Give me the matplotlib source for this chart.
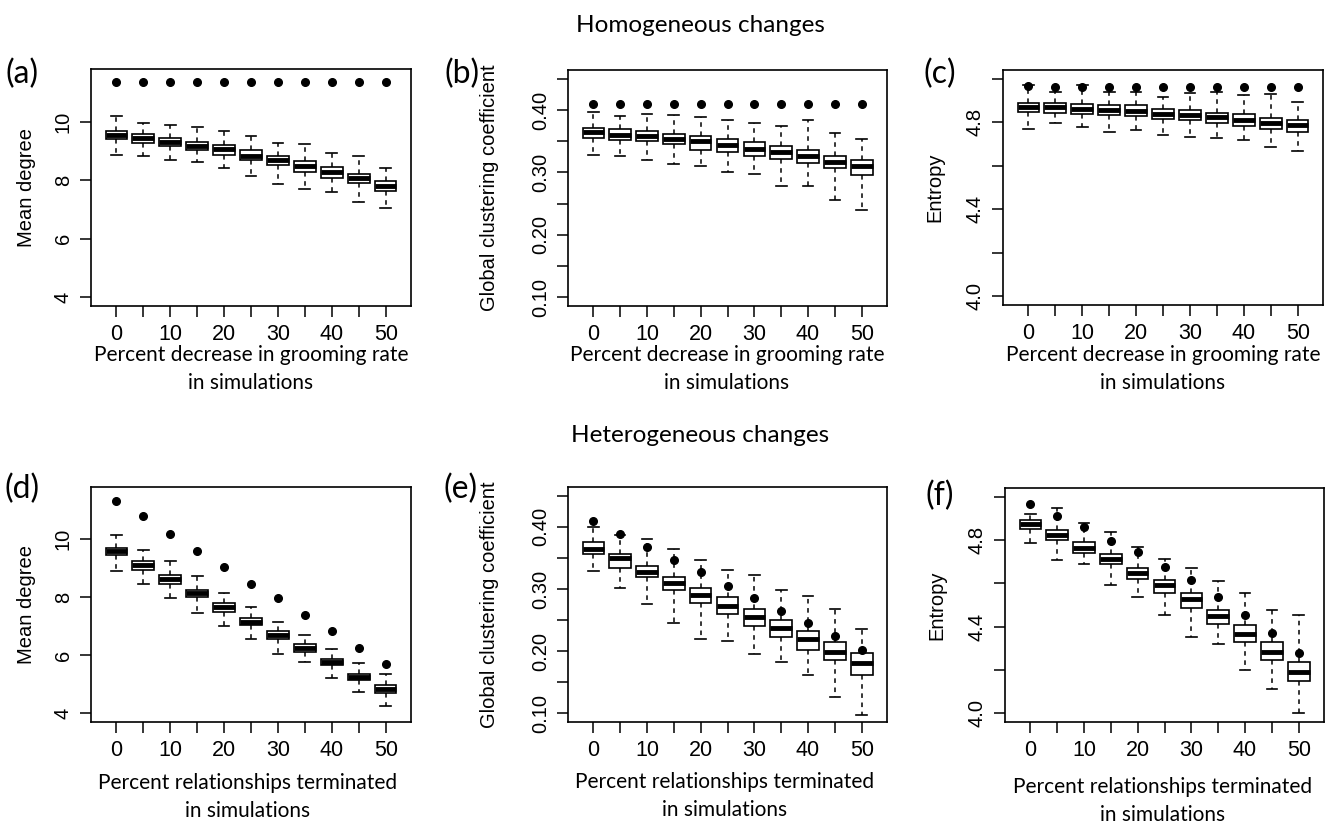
import matplotlib
matplotlib.use('Agg')
import matplotlib.pyplot as plt
import numpy as np

# x positions (percent) shared by all panels
pct = [0, 5, 10, 15, 20, 25, 30, 35, 40, 45, 50]

# (a) homogeneous, mean degree
a_lo  = [8.86, 8.81, 8.70, 8.62, 8.42, 8.16, 7.87, 7.71, 7.59, 7.26, 7.06]
a_q1  = [9.42, 9.27, 9.18, 9.03, 8.87, 8.69, 8.53, 8.29, 8.09, 7.89, 7.62]
a_med = [9.55, 9.43, 9.31, 9.18, 9.05, 8.83, 8.69, 8.50, 8.27, 8.07, 7.81]
a_q3  = [9.69, 9.57, 9.44, 9.31, 9.20, 9.03, 8.82, 8.66, 8.46, 8.21, 7.98]
a_hi  = [10.21, 9.97, 9.87, 9.83, 9.67, 9.50, 9.27, 9.22, 8.94, 8.81, 8.43]
a_obs = [11.34] * 11

# (b) homogeneous, global clustering coefficient
b_lo  = [0.3285, 0.326, 0.320, 0.3134, 0.3108, 0.301, 0.298, 0.2785, 0.2785, 0.256, 0.2403]
b_q1  = [0.355, 0.352, 0.350, 0.346, 0.3366, 0.332, 0.327, 0.3215, 0.315, 0.307, 0.296]
b_med = [0.3645, 0.360, 0.3586, 0.354, 0.3505, 0.3446, 0.3376, 0.333, 0.326, 0.317, 0.310]
b_q3  = [0.371, 0.369, 0.3656, 0.361, 0.359, 0.3538, 0.348, 0.342, 0.3366, 0.327, 0.3194]
b_hi  = [0.397, 0.390, 0.394, 0.392, 0.388, 0.384, 0.379, 0.3747, 0.384, 0.3634, 0.3527]
b_obs = [0.410] * 11

# (c) homogeneous, entropy
c_lo  = [4.768, 4.795, 4.779, 4.753, 4.763, 4.739, 4.734, 4.727, 4.718, 4.686, 4.666]
c_q1  = [4.849, 4.844, 4.840, 4.834, 4.827, 4.817, 4.810, 4.798, 4.783, 4.768, 4.756]
c_med = [4.870, 4.870, 4.862, 4.856, 4.850, 4.840, 4.835, 4.823, 4.812, 4.798, 4.785]
c_q3  = [4.890, 4.888, 4.882, 4.878, 4.878, 4.860, 4.855, 4.843, 4.840, 4.821, 4.809]
c_hi  = [4.970, 4.940, 4.970, 4.940, 4.940, 4.916, 4.934, 4.940, 4.923, 4.928, 4.891]
c_obs = [4.966, 4.963, 4.963, 4.963, 4.963, 4.963, 4.963, 4.963, 4.963, 4.963, 4.963]

# (d) heterogeneous, mean degree
d_lo  = [8.92, 8.44, 7.97, 7.47, 7.02, 6.57, 6.05, 5.77, 5.22, 4.75, 4.25]
d_q1  = [9.44, 8.95, 8.46, 8.00, 7.48, 7.06, 6.57, 6.11, 5.67, 5.14, 4.70]
d_med = [9.59, 9.10, 8.62, 8.14, 7.67, 7.16, 6.70, 6.25, 5.77, 5.26, 4.83]
d_q3  = [9.69, 9.25, 8.75, 8.25, 7.81, 7.27, 6.82, 6.38, 5.88, 5.36, 4.96]
d_hi  = [10.13, 9.64, 9.25, 8.73, 8.16, 7.65, 7.14, 6.70, 6.21, 5.72, 5.35]
d_obs = [11.33, 10.79, 10.18, 9.60, 9.04, 8.47, 7.97, 7.38, 6.82, 6.25, 5.71]

# (e) heterogeneous, global clustering coefficient
e_lo  = [0.3286, 0.302, 0.2765, 0.246, 0.219, 0.217, 0.196, 0.1826, 0.161, 0.1267, 0.0967]
e_q1  = [0.356, 0.3345, 0.3195, 0.298, 0.278, 0.259, 0.2406, 0.223, 0.2014, 0.1864, 0.161]
e_med = [0.365, 0.349, 0.328, 0.310, 0.291, 0.273, 0.255, 0.2374, 0.2197, 0.1988, 0.181]
e_q3  = [0.375, 0.356, 0.337, 0.3195, 0.302, 0.287, 0.267, 0.250, 0.2325, 0.215, 0.1976]
e_hi  = [0.400, 0.3866, 0.380, 0.365, 0.346, 0.331, 0.323, 0.298, 0.289, 0.2675, 0.2363]
e_obs = [0.410, 0.389, 0.368, 0.346, 0.327, 0.304, 0.286, 0.2647, 0.245, 0.225, 0.2019]

# (f) heterogeneous, entropy
f_lo  = [4.788, 4.709, 4.687, 4.593, 4.538, 4.452, 4.353, 4.318, 4.200, 4.114, 4.000]
f_q1  = [4.852, 4.800, 4.742, 4.687, 4.622, 4.555, 4.485, 4.414, 4.330, 4.245, 4.148]
f_med = [4.875, 4.821, 4.765, 4.710, 4.648, 4.590, 4.526, 4.450, 4.368, 4.284, 4.190]
f_q3  = [4.893, 4.844, 4.791, 4.736, 4.672, 4.617, 4.555, 4.479, 4.409, 4.327, 4.236]
f_hi  = [4.920, 4.949, 4.878, 4.835, 4.767, 4.713, 4.671, 4.611, 4.555, 4.478, 4.452]
f_obs = [4.964, 4.911, 4.858, 4.797, 4.745, 4.677, 4.616, 4.538, 4.456, 4.371, 4.280]

W, H = 1333, 823
fig = plt.figure(figsize=(W / 100, H / 100), dpi=100)
fig.patch.set_facecolor('white')

tickfont = ['Liberation Sans', 'DejaVu Sans']
txtfont = ['Lato', 'DejaVu Sans']

def box_px(x0, y0, x1, y1):
    return [x0 / W, 1 - y1 / H, (x1 - x0) / W, (y1 - y0) / H]

panels = [
    # rect, lo,q1,med,q3,hi,obs, ylim, ticks, labeled ticks, fmt, ylabel, letter
    (box_px(91, 69, 411, 306), a_lo, a_q1, a_med, a_q3, a_hi, a_obs,
     (4, 11.5), [4, 6, 8, 10], [4, 6, 8, 10], '%g', 'Mean degree', '(a)'),
    (box_px(568, 70, 887, 306), b_lo, b_q1, b_med, b_q3, b_hi, b_obs,
     (0.1, 0.45), [0.10, 0.15, 0.20, 0.25, 0.30, 0.35, 0.40, 0.45], [0.10, 0.20, 0.30, 0.40], '%.2f',
     'Global clustering coefficient', '(b)'),
    (box_px(1003, 70, 1323, 305), c_lo, c_q1, c_med, c_q3, c_hi, c_obs,
     (4.0, 5.0), [4.0, 4.2, 4.4, 4.6, 4.8, 5.0], [4.0, 4.4, 4.8], '%.1f', 'Entropy', '(c)'),
    (box_px(91, 487, 411, 722), d_lo, d_q1, d_med, d_q3, d_hi, d_obs,
     (4, 11.5), [4, 6, 8, 10], [4, 6, 8, 10], '%g', 'Mean degree', '(d)'),
    (box_px(568, 487, 887, 722), e_lo, e_q1, e_med, e_q3, e_hi, e_obs,
     (0.1, 0.45), [0.10, 0.15, 0.20, 0.25, 0.30, 0.35, 0.40, 0.45], [0.10, 0.20, 0.30, 0.40], '%.2f',
     'Global clustering coefficient', '(e)'),
    (box_px(1005, 488, 1324, 722), f_lo, f_q1, f_med, f_q3, f_hi, f_obs,
     (4.0, 5.0), [4.0, 4.2, 4.4, 4.6, 4.8, 5.0], [4.0, 4.4, 4.8], '%.1f', 'Entropy', '(f)'),
]

ylabel_x = [27, 490, 935, 27, 490, 937]
letter_pos = [(22, 74), (462, 74), (940, 74), (22, 489), (461, 489), (940, 496)]

for i, (rect, lo, q1, med, q3, hi, obs, ylim, yt, ylab_ticks, fmt, ylab, letter) in enumerate(panels):
    ax = fig.add_axes(rect)
    pos = np.arange(1, len(pct) + 1)
    stats = []
    for k in range(len(pct)):
        stats.append(dict(whislo=lo[k], q1=q1[k], med=med[k], q3=q3[k], whishi=hi[k], fliers=[]))
    ax.bxp(stats, positions=pos, widths=0.8, showfliers=False, patch_artist=True,
           boxprops=dict(facecolor='white', edgecolor='black', linewidth=1.2),
           medianprops=dict(color='black', linewidth=3.5, solid_capstyle='butt'),
           whiskerprops=dict(color='black', linewidth=1.1, linestyle=(0, (3, 3))),
           capprops=dict(color='black', linewidth=1.2), capwidths=0.4)
    ax.plot(pos, obs, 'o', color='black', markersize=5.5, zorder=5)

    # R-style 4% padding
    r = ylim[1] - ylim[0]
    ax.set_ylim(ylim[0] - 0.04 * r, ylim[1] + 0.04 * r)
    ax.set_xlim(0.06, 11.94)

    ax.set_xticks(pos)
    ax.set_xticklabels([str(p) if j % 2 == 0 else '' for j, p in enumerate(pct)],
                       fontsize=15.5, fontfamily=tickfont)
    ax.set_yticks(yt)
    ax.set_yticklabels([(fmt % v) if any(abs(v - t) < 1e-9 for t in ylab_ticks) else '' for v in yt],
                       fontsize=14.5, fontfamily=tickfont, rotation=90, va='center')
    ax.tick_params(axis='both', direction='out', length=8, width=1.1, color='black')
    ax.tick_params(axis='x', pad=5)
    ax.tick_params(axis='y', pad=5)
    for s in ax.spines.values():
        s.set_linewidth(1.2)
    ax.set_facecolor('white')

    bb = ax.get_position()
    fig.text(ylabel_x[i] / W, bb.y0 + bb.height / 2, ylab, rotation=90, ha='center', va='center',
             fontsize=14.5, fontfamily=tickfont)
    fig.text(letter_pos[i][0] / W, 1 - letter_pos[i][1] / H, letter, ha='center', va='center',
             fontsize=23, fontfamily=txtfont)

# x labels
top_lab = 'Percent decrease in grooming rate\nin simulations'
bot_lab = 'Percent relationships terminated\nin simulations'
for cx in [251, 727, 1163]:
    fig.text(cx / W, 1 - 369 / H, top_lab, ha='center', va='center', fontsize=15,
             fontfamily=txtfont, linespacing=1.55)
for cx, cy in [(248, 797), (725, 796), (1163, 801)]:
    fig.text(cx / W, 1 - cy / H, bot_lab, ha='center', va='center', fontsize=15,
             fontfamily=txtfont, linespacing=1.5)

fig.text(700 / W, 1 - 25 / H, 'Homogeneous changes', ha='center', va='center', fontsize=17.5,
         fontfamily=txtfont)
fig.text(700 / W, 1 - 436 / H, 'Heterogeneous changes', ha='center', va='center', fontsize=17.5,
         fontfamily=txtfont)

fig.savefig('out.png', dpi=100, facecolor='white')
